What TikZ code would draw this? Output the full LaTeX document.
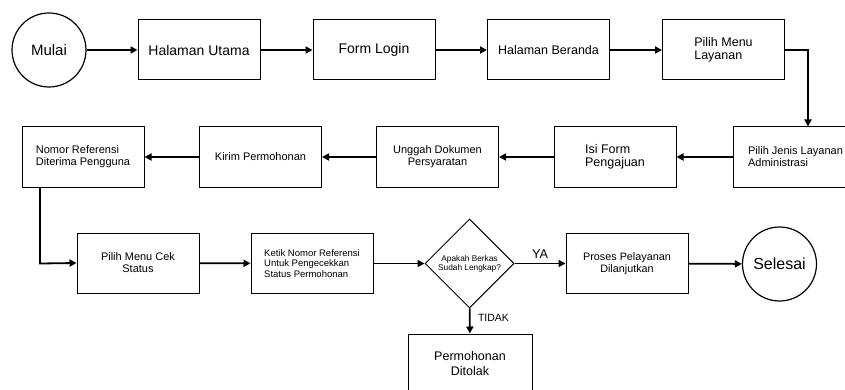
\documentclass[tikz,border=0pt]{standalone}
\usepackage{fontspec}
\setmainfont{Liberation Sans}
\usetikzlibrary{shapes.geometric,arrows.meta}

\begin{document}
\begin{tikzpicture}[x=1pt,y=-1pt,every node/.style={black},
	kotak/.style={draw,line width=1pt,minimum width=122pt,minimum height=60pt,inner sep=2pt,align=center},
	bulat/.style={draw,circle,line width=1.2pt,minimum size=74pt,inner sep=0pt},
	belah/.style={draw,diamond,line width=1pt,minimum width=89pt,minimum height=89pt,inner sep=0pt,align=center},
	panah/.style={line width=1.8pt,-{Triangle[length=7pt,width=7pt]}},
	teks/.style 2 args={font=\fontsize{#1}{#2}\selectfont}]

	\useasboundingbox (0,0) rectangle (845,390);

	\node[bulat,teks={15}{17}] (Mulai) at (49,50) {Mulai};
	\node[kotak,teks={14}{16}] (Utama) at (199,50) {Halaman Utama};
	\node[kotak,teks={14}{16}] (Login) at (374,50) {Form Login};
	\node[kotak,teks={12.5}{14}] (Beranda) at (548.5,50) {Halaman Beranda};
	\node[kotak,teks={12.5}{13.5},align=left] (MenuLayanan) at (723.5,50) {Pilih Menu\\Layanan};

	\node[kotak,teks={11}{12},align=left,minimum width=125pt] (Jenis) at (795.5,157) {Pilih Jenis Layanan\\Administrasi};
	\node[kotak,teks={12.5}{13},align=left] (IsiForm) at (615,157) {Isi Form\\Pengajuan};
	\node[kotak,teks={11}{12}] (Unggah) at (437.5,157) {Unggah Dokumen\\Persyaratan};
	\node[kotak,teks={11}{12}] (Kirim) at (260.5,157) {Kirim Permohonan};
	\node[kotak,teks={11}{12},align=left] (Nomor) at (83,157) {Nomor Referensi\\Diterima Pengguna};

	\node[kotak,teks={11}{12}] (CekStatus) at (138,263) {Pilih Menu Cek\\Status};
	\node[kotak,teks={9.5}{10.5},align=left] (Ketik) at (312,263.5) {Ketik Nomor Referensi\\Untuk Pengecekkan\\Status Permohonan};
	\node[belah,teks={8.3}{9}] (Berkas) at (469.5,263.5) {Apakah Berkas\\Sudah Lengkap?};
	\node[kotak,teks={10.8}{12}] (Proses) at (627,263.5) {Proses Pelayanan\\Dilanjutkan};
	\node[bulat,teks={16}{18}] (Selesai) at (779.5,264) {Selesai};
	\node[kotak,teks={12.5}{15},minimum width=124pt] (Ditolak) at (470,364) {Permohonan\\Ditolak};

	\coordinate (Belok1) at (808,50);
	\coordinate (Belok2) at (40,263.5);

	\draw[panah] (Mulai) -- (Utama);
	\draw[panah] (Utama) -- (Login);
	\draw[panah] (Login) -- (Beranda);
	\draw[panah] (Beranda) -- (MenuLayanan);
	\draw[panah] (MenuLayanan.east) -- (Belok1) -- (Belok1 |- Jenis.north);

	\draw[panah] (Jenis) -- (IsiForm);
	\draw[panah] (IsiForm) -- (Unggah);
	\draw[panah] (Unggah) -- (Kirim);
	\draw[panah] (Kirim) -- (Nomor);
	\draw[panah] (Nomor.south -| Belok2) -- (Belok2) -- (CekStatus.west);

	\draw[panah] (CekStatus) -- (Ketik);
	\draw[panah] (Ketik) -- (Berkas);
	\draw[panah] (Berkas) -- node[above,teks={12.7}{14},yshift=1pt] {YA} (Proses);
	\draw[panah] (Proses) -- (Selesai);
	\draw[panah] (Berkas) -- node[right,teks={10.5}{12},xshift=4pt,yshift=3pt] {TIDAK} (Ditolak);
\end{tikzpicture}
\end{document}
